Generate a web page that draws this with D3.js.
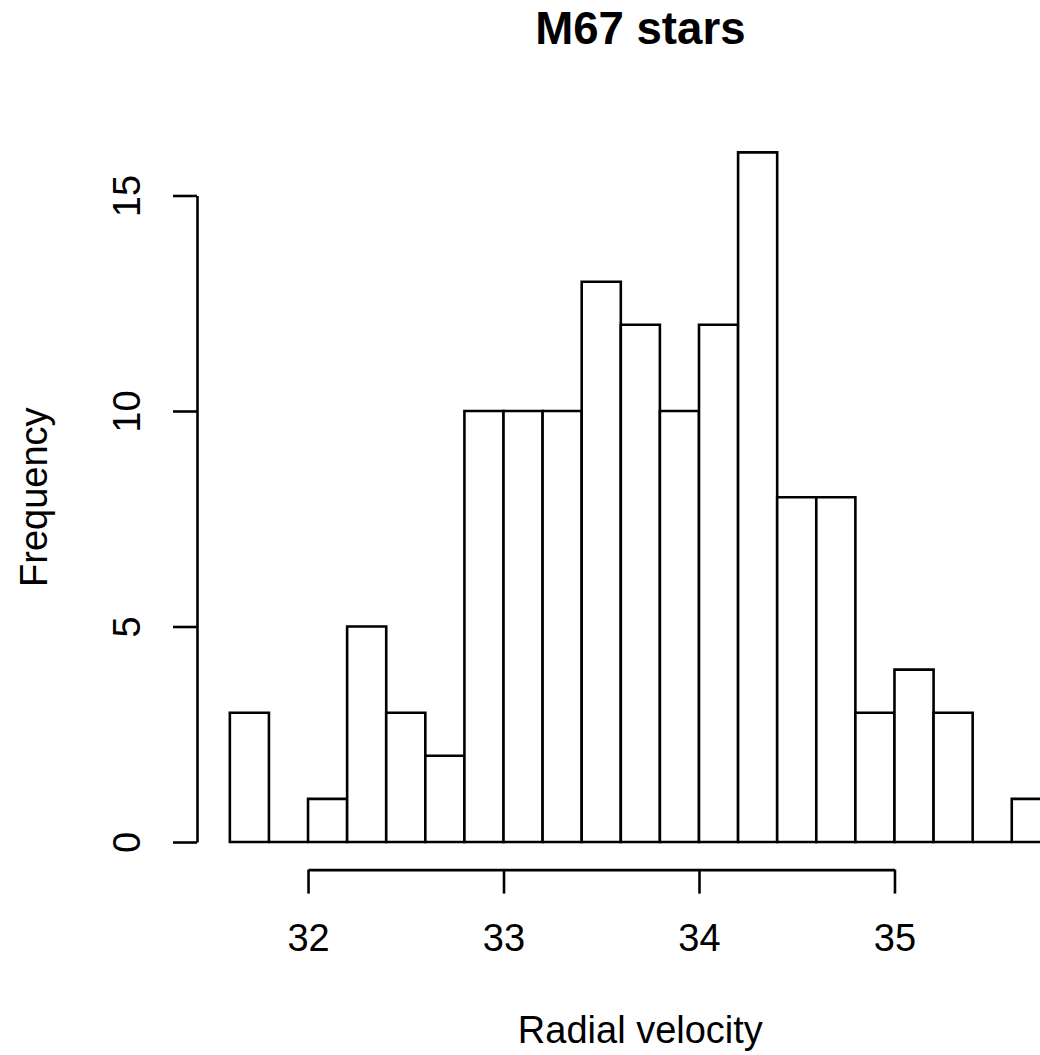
<!DOCTYPE html>
<html>
<head>
<meta charset="utf-8">
<script src="https://cdn.jsdelivr.net/npm/d3@7"></script>
<style>
  html, body { margin: 0; padding: 0; background: #fff; }
  svg { display: block; }
  text { font-family: "Liberation Sans", Arial, Helvetica, sans-serif; fill: #000; }
</style>
</head>
<body>
<svg id="chart" width="1040" height="1055"></svg>
<script>
// Histogram bin edges (left edges, width 0.2) and counts
const binStarts = [31.6, 31.8, 32.0, 32.2, 32.4, 32.6, 32.8, 33.0, 33.2, 33.4, 33.6, 33.8, 34.0, 34.2, 34.4, 34.6, 34.8, 35.0, 35.2, 35.4, 35.6];
const binWidth = 0.2;
const counts = [3, 0, 1, 5, 3, 2, 10, 10, 10, 13, 12, 10, 12, 16, 8, 8, 3, 4, 3, 0, 1];
const xTicks = [32, 33, 34, 35];
const yTicks = [0, 5, 10, 15];
const titleText = "M67 stars";
const xLabel = "Radial velocity";
const yLabel = "Frequency";

const svg = d3.select("#chart");

// R-style usr extents (4% padding)
const xMin = 31.6, xMax = 35.8, yMax = 16;
const xPad = (xMax - xMin) * 0.04, yPad = yMax * 0.04;
const x = d3.scaleLinear().domain([xMin - xPad, xMax + xPad]).range([197, 1083.7]);
const y = d3.scaleLinear().domain([-yPad, yMax + yPad]).range([869.6, 124.8]);

const lw = 2.6;

// Bars (drawn as closed paths so zero-count bins still show a baseline)
svg.append("g").selectAll("path")
  .data(binStarts.map((s, i) => ({ s, c: counts[i] })))
  .join("path")
  .attr("d", d => {
    const x0 = x(d.s), x1 = x(d.s + binWidth), y0 = y(0), y1 = y(d.c);
    return `M${x0},${y0}L${x0},${y1}L${x1},${y1}L${x1},${y0}Z`;
  })
  .attr("fill", "#fff")
  .attr("stroke", "#000")
  .attr("stroke-width", lw)
  .attr("stroke-linejoin", "miter");

// X axis (R style: line spans first to last tick)
const xAxisScale = d3.scaleLinear().domain([xTicks[0], xTicks[xTicks.length - 1]])
  .range([x(xTicks[0]), x(xTicks[xTicks.length - 1])]);
const gx = svg.append("g").attr("transform", `translate(0,${y(-yPad)})`)
  .call(d3.axisBottom(xAxisScale).tickValues(xTicks).tickSize(24).tickSizeOuter(0).tickFormat(d3.format("d")));
gx.select(".domain").attr("stroke-width", lw);
gx.selectAll(".tick line").attr("stroke-width", lw);
gx.selectAll(".tick text").attr("y", 81).attr("dy", 0)
  .style("font-size", "38px").style("font-family", "Liberation Sans, Arial, sans-serif");

// Y axis
const yAxisScale = d3.scaleLinear().domain([yTicks[0], yTicks[yTicks.length - 1]])
  .range([y(yTicks[0]), y(yTicks[yTicks.length - 1])]);
const gy = svg.append("g").attr("transform", `translate(${x(xMin - xPad)},0)`)
  .call(d3.axisLeft(yAxisScale).tickValues(yTicks).tickSize(24).tickSizeOuter(0).tickFormat(d3.format("d")));
gy.select(".domain").attr("stroke-width", lw);
gy.selectAll(".tick line").attr("stroke-width", lw);
gy.selectAll(".tick text")
  .attr("x", null).attr("dy", 0)
  .attr("text-anchor", "middle")
  .attr("transform", "translate(-57,0) rotate(-90)")
  .style("font-size", "38px").style("font-family", "Liberation Sans, Arial, sans-serif");

// Title
svg.append("text")
  .attr("x", (x.range()[0] + x.range()[1]) / 2)
  .attr("y", 44)
  .attr("text-anchor", "middle")
  .style("font-size", "45.6px")
  .style("font-weight", "bold")
  .text(titleText);

// X label
svg.append("text")
  .attr("x", (x.range()[0] + x.range()[1]) / 2)
  .attr("y", 1043)
  .attr("text-anchor", "middle")
  .style("font-size", "38px")
  .text(xLabel);

// Y label
svg.append("text")
  .attr("transform", `translate(47,${(y.range()[0] + y.range()[1]) / 2}) rotate(-90)`)
  .attr("text-anchor", "middle")
  .style("font-size", "38px")
  .text(yLabel);
</script>
</body>
</html>
